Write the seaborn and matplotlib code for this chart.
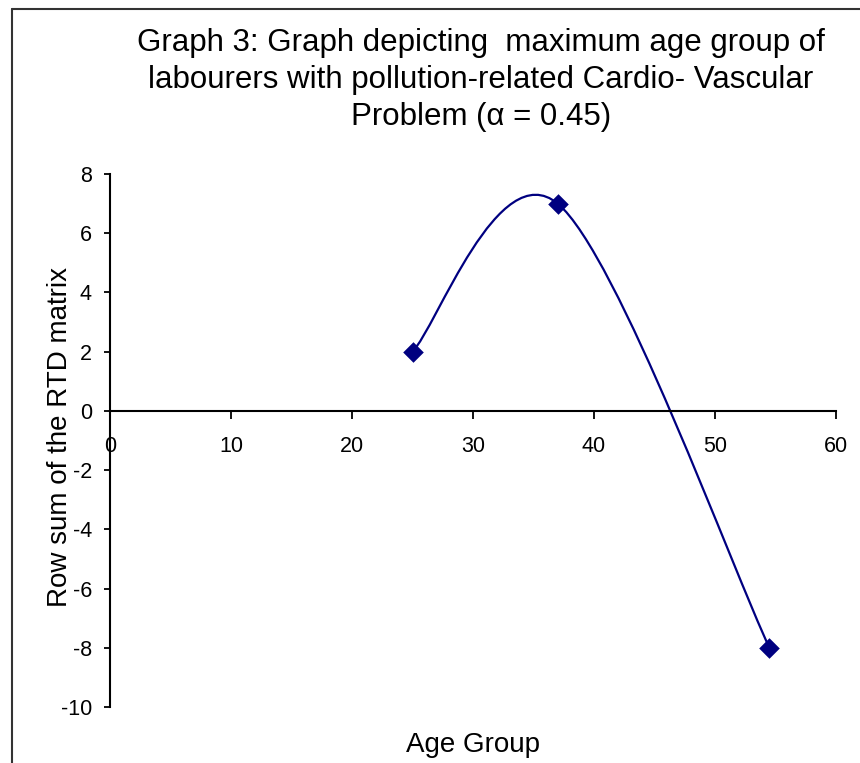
import numpy as np
import pandas as pd
import seaborn as sns
import matplotlib as mpl
import matplotlib.pyplot as plt
from matplotlib.path import Path
from matplotlib.patches import PathPatch

mpl.use('Agg')

# values
age_group = [25, 37, 54.5]
row_sum = [2, 7, -8]
x_ticks = [0, 10, 20, 30, 40, 50, 60]
y_ticks = [-10, -8, -6, -4, -2, 0, 2, 4, 6, 8]

title = ('Graph 3: Graph depicting  maximum age group of\n'
         'labourers with pollution-related Cardio- Vascular\n'
         'Problem (\u03b1 = 0.45)')

sns.set_style('white')
plt.rcParams['font.family'] = ['Liberation Sans', 'DejaVu Sans']
plt.rcParams['text.color'] = 'black'
plt.rcParams['xtick.color'] = 'black'
plt.rcParams['ytick.color'] = 'black'

navy = '#000080'

df = pd.DataFrame({'age': age_group, 'rtd': row_sum})

fig = plt.figure(figsize=(8.6, 7.63), dpi=100)
ax = fig.add_axes([110 / 860, 1 - 707 / 763, 726 / 860, 533 / 763])


def smooth_path(xs, ys):
    # excel style smoothed line: bezier segments through the points
    pts = np.column_stack([xs, ys]).astype(float)
    n = len(pts)
    verts = [pts[0]]
    codes = [Path.MOVETO]
    for i in range(n - 1):
        p_prev = pts[i - 1] if i > 0 else pts[i]
        p_next = pts[i + 2] if i + 2 < n else pts[i + 1]
        c1 = pts[i] + (pts[i + 1] - p_prev) / 6
        c2 = pts[i + 1] - (p_next - pts[i]) / 6
        verts += [c1, c2, pts[i + 1]]
        codes += [Path.CURVE4] * 3
    return Path(verts, codes)


ax.add_patch(PathPatch(smooth_path(df['age'], df['rtd']), fill=False,
                       edgecolor=navy, lw=1.6, zorder=2))
sns.scatterplot(data=df, x='age', y='rtd', marker='D', s=110, color=navy,
                edgecolor=navy, linewidth=0, ax=ax, zorder=3)

ax.set_xlim(0, 60)
ax.set_ylim(-10, 8)
ax.set_xticks(x_ticks)
ax.set_yticks(y_ticks)
ax.set_xticklabels([str(t) for t in x_ticks])
ax.set_yticklabels([str(t) for t in y_ticks])

ax.spines['top'].set_visible(False)
ax.spines['right'].set_visible(False)
ax.spines['bottom'].set_position(('data', 0))
for s in ['left', 'bottom']:
    ax.spines[s].set_color('black')
    ax.spines[s].set_linewidth(1.5)

ax.tick_params(axis='y', direction='out', length=4.5, width=1.3, pad=8.5,
               labelsize=15.5, left=True)
ax.tick_params(axis='x', direction='out', length=6, width=1.3, pad=12,
               labelsize=15.5, bottom=True)

ax.set_xlabel('')
ax.set_ylabel('')
fig.text(473 / 860, 1 - 745 / 763, 'Age Group', ha='center', va='center',
         fontsize=20)
fig.text(60 / 860, 1 - 437 / 763, 'Row sum of the RTD matrix', ha='center',
         va='center', rotation=90, fontsize=20)
fig.text(481 / 860, 1 - 80 / 763, title, ha='center', va='center',
         fontsize=22.5, linespacing=1.32)

# chart frame (left and top edges visible)
fig.add_artist(plt.Line2D([12 / 860, 12 / 860], [0, 1 - 9 / 763],
                          transform=fig.transFigure, color='#333333', lw=1.5))
fig.add_artist(plt.Line2D([12 / 860, 1], [1 - 9 / 763, 1 - 9 / 763],
                          transform=fig.transFigure, color='#333333', lw=1.5))

fig.savefig('out.png', dpi=100)
plt.close('all')
